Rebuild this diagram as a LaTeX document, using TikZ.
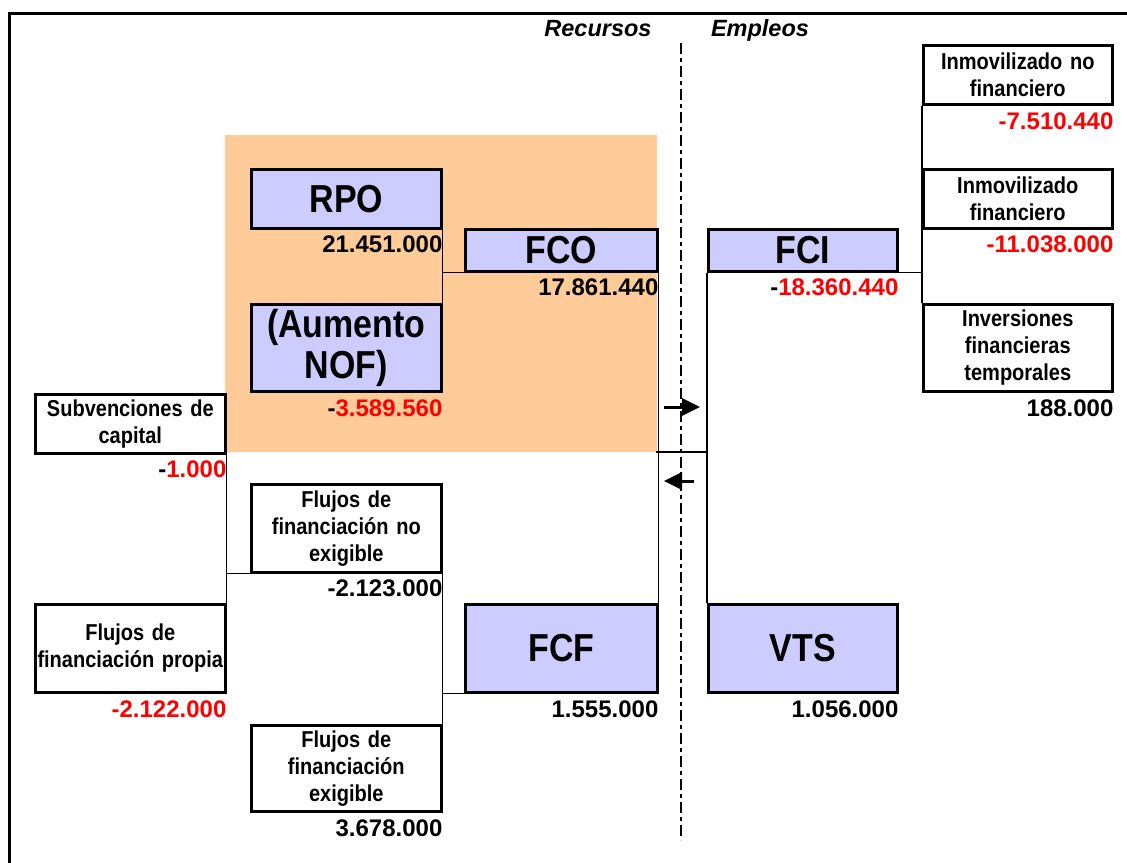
\documentclass[tikz,border=0pt]{standalone}
\usepackage{fontspec}
\setmainfont{Liberation Sans}
\newfontfamily\narrow{Liberation Sans}[FakeStretch=0.87]
\usetikzlibrary{arrows.meta}
\definecolor{orangebg}{HTML}{FFCC99}
\definecolor{lav}{HTML}{CCCCFF}
\definecolor{numred}{HTML}{FF0000}
\tikzset{
  boxbase/.style={draw=black, line width=2.6pt, inner sep=0pt, align=center, anchor=north west},
  whitebox/.style={boxbase, fill=white, font=\narrow\bfseries\fontsize{23}{27}\selectfont},
  bigbox/.style={boxbase, fill=lav, font=\narrow\bfseries\fontsize{39}{41}\selectfont},
  num/.style={inner sep=0pt, anchor=base east, font=\bfseries\fontsize{24}{24}\selectfont},
  conn/.style={line width=1.3pt},
  head/.style={inner sep=0pt, anchor=base, font=\bfseries\itshape\fontsize{23.5}{23.5}\selectfont},
  arr/.style={line width=3pt, -{Triangle[length=18pt,width=17pt]}},
}
\newcommand{\rn}[1]{\textcolor{numred}{#1}}
\begin{document}
\begin{tikzpicture}[x=1pt,y=-1pt]
\useasboundingbox (0,0) rectangle (1127,862);
\begin{scope}
\clip (0,0) rectangle (1127,862);
% background
\fill[white] (0,0) rectangle (1127,862);
\fill[orangebg] (225,135) rectangle (657,452);
% frame
\draw[line width=3pt] (9,900) -- (9,13) -- (1200,13);
% dash-dot divider
\coordinate (dt) at (681,43);
\coordinate (db) at (681,840);
\draw[line width=1.6pt, dash pattern=on 11pt off 4pt on 4pt off 4pt] (dt) -- (db);
% headers
\node[head] (rec) at (598,36) {Recursos};
\node[head] (emp) at (760,36) {Empleos};
% boxes
\node[bigbox, minimum width=190, minimum height=59] (rpo) at (250,168) {RPO};
\node[bigbox, minimum width=192, minimum height=42] (fco) at (464,228) {FCO};
\node[bigbox, minimum width=190, minimum height=87, text width=190] (nof) at (250,303) {(Aumento\\NOF)};
\node[bigbox, minimum width=189, minimum height=42] (fci) at (707,228) {FCI};
\node[bigbox, minimum width=192, minimum height=88] (fcf) at (464,603) {FCF};
\node[bigbox, minimum width=189, minimum height=88] (vts) at (707,603) {VTS};
\node[whitebox, minimum width=189, minimum height=59, text width=189] (inf) at (922,44) {Inmovilizado no\\financiero};
\node[whitebox, minimum width=189, minimum height=59, text width=189] (ifi) at (922,168) {Inmovilizado\\financiero};
\node[whitebox, minimum width=189, minimum height=87, text width=189] (ift) at (922,303) {Inversiones\\financieras\\temporales};
\node[whitebox, minimum width=190, minimum height=59, text width=190] (sub) at (34,393) {Subvenciones de\\capital};
\node[whitebox, minimum width=190, minimum height=88, text width=190] (fne) at (250,483) {Flujos de\\financiación no\\exigible};
\node[whitebox, minimum width=190, minimum height=88, text width=190] (fp) at (34,603) {Flujos de\\financiación propia};
\node[whitebox, minimum width=190, minimum height=86, text width=190] (fe) at (250,724) {Flujos de\\financiación\\exigible};
% connectors
\coordinate (mid) at (656,452);
\draw[conn] (inf.south west) -- (ift.north west);
\draw[conn] (fci.south east) -- (fci.south east -| ifi.west);
\draw[conn] (rpo.south east) -- (nof.north east);
\draw[conn] (fco.south west -| rpo.east) -- (fco.south west);
\draw[conn] (fco.south east) -- (fcf.north east);
\draw[conn] (fci.south west) -- (vts.north west);
\draw[conn] (mid) -- (mid -| vts.west);
\draw[conn] (sub.south east) -- (fp.north east);
\draw[conn] (fne.south west) -- (fne.south west -| sub.east);
\draw[conn] (fne.south east) -- (fe.north east);
\draw[conn] (fcf.south west) -- (fcf.south west -| fe.east);
% arrows
\coordinate (a1s) at (664,407);
\coordinate (a1e) at (700,407);
\coordinate (a2s) at (694,481);
\coordinate (a2e) at (664,481);
\draw[arr] (a1s) -- (a1e);
\draw[arr] (a2s) -- (a2e);
% numbers
\node[num] (nrpo) at ([yshift=-23pt]rpo.south east) {21.451.000};
\node[num] (nfco) at ([yshift=-23pt]fco.south east) {17.861.440};
\node[num] (nnof) at ([yshift=-24pt]nof.south east) {-\rn{3.589.560}};
\node[num] (nfci) at ([yshift=-23pt]fci.south east) {-\rn{18.360.440}};
\node[num] (ninf) at ([yshift=-24pt]inf.south east) {\rn{-7.510.440}};
\node[num] (nifi) at ([yshift=-23pt]ifi.south east) {\rn{-11.038.000}};
\node[num] (nift) at ([yshift=-24pt]ift.south east) {188.000};
\node[num] (nsub) at ([yshift=-23pt]sub.south east) {-\rn{1.000}};
\node[num] (nfne) at ([yshift=-23pt]fne.south east) {-2.123.000};
\node[num] (nfp) at ([yshift=-24pt]fp.south east) {\rn{-2.122.000}};
\node[num] (nfe) at ([yshift=-24pt]fe.south east) {3.678.000};
\node[num] (nfcf) at ([yshift=-24pt]fcf.south east) {1.555.000};
\node[num] (nvts) at ([yshift=-24pt]vts.south east) {1.056.000};
\end{scope}
\end{tikzpicture}
\end{document}
